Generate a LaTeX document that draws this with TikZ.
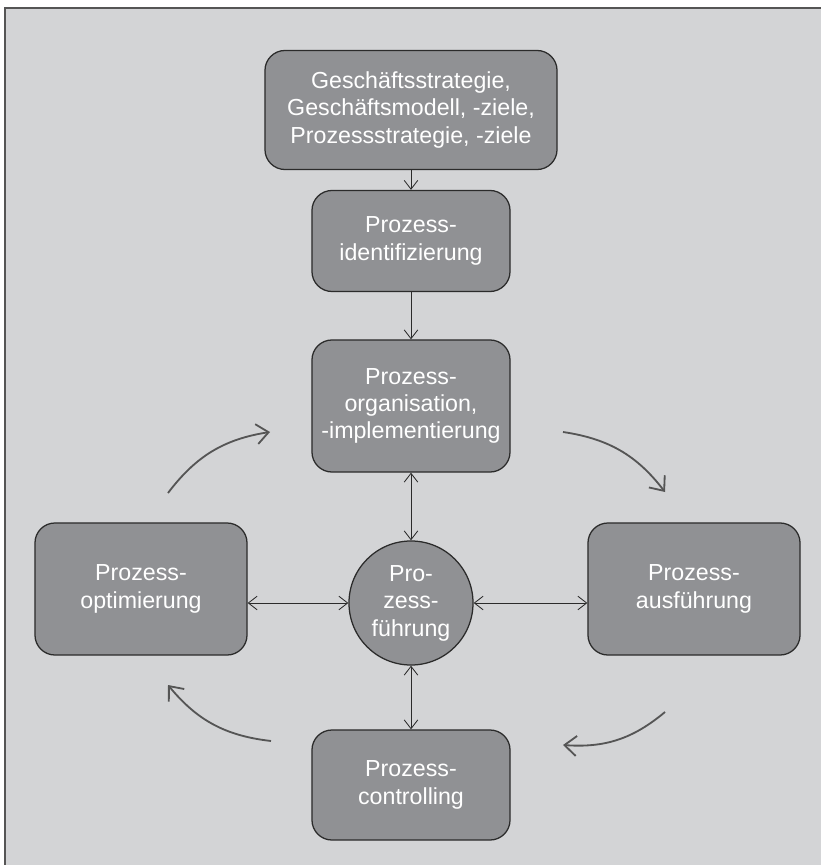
\documentclass[tikz,border=0pt]{standalone}
\usepackage{fontspec}
\setmainfont{Liberation Sans}
\usetikzlibrary{arrows.meta}
\definecolor{panelgray}{HTML}{D3D4D6}
\definecolor{boxgray}{HTML}{909194}
\definecolor{edgegray}{HTML}{2B2B2B}
\definecolor{cyclegray}{HTML}{555555}
\tikzset{
  stage/.style={draw=edgegray, line width=0.9pt, fill=boxgray, rounded corners=0.5cm,
    text=white, align=center, font=\fontsize{16.5}{19.5}\selectfont, inner sep=0pt},
  hub/.style={draw=edgegray, line width=0.9pt, fill=boxgray, circle, minimum size=3.1cm,
    text=white, align=center, font=\fontsize{16.5}{19.5}\selectfont, inner sep=0pt},
  link/.style={draw=edgegray, line width=0.6pt, -{Straight Barb[length=2.2mm,width=3.4mm]}},
  dlink/.style={draw=edgegray, line width=0.6pt, {Straight Barb[length=2.2mm,width=3.4mm]}-{Straight Barb[length=2.2mm,width=3.4mm]}},
  cycle/.style={draw=cyclegray, line width=1.3pt, -{Straight Barb[length=3mm,width=5mm]}, bend left=22}
}
\begin{document}
\begin{tikzpicture}[x=0.025cm, y=0.025cm]
                \useasboundingbox (0,0) rectangle (821,-865);
                \fill[panelgray] (5,-8) rectangle (821,-865);
                \draw[cyclegray, line width=1.2pt] (5,-865) -- (5,-8) -- (821,-8);

                \node[stage, minimum width=7.3cm, minimum height=2.975cm] (strat) at (411,-110) {Geschäftsstrategie,\\Geschäftsmodell, -ziele,\\Prozessstrategie, -ziele};
                \node[stage, minimum width=4.95cm, minimum height=2.525cm] (ident) at (411,-241) {Prozess-\\identifizierung};
                \node[stage, minimum width=4.95cm, minimum height=3.3cm] (org) at (411,-406) {Prozess-\\organisation,\\-implementierung};
                \node[hub] (fuehr) at (411,-603) {Pro-\\zess-\\führung};
                \node[stage, minimum width=5.3cm, minimum height=3.3cm] (opt) at (141,-589) {Prozess-\\optimierung};
                \node[stage, minimum width=5.3cm, minimum height=3.3cm] (ausf) at (694,-589) {Prozess-\\ausführung};
                \node[stage, minimum width=4.95cm, minimum height=2.75cm] (ctrl) at (411,-785) {Prozess-\\controlling};

                \coordinate (tl1) at (168,-493);
                \coordinate (tl2) at (270,-432);
                \coordinate (tr1) at (563,-432);
                \coordinate (tr2) at (665,-492);
                \coordinate (br1) at (665,-712);
                \coordinate (br2) at (563,-745);
                \coordinate (bl1) at (271,-741);
                \coordinate (bl2) at (168,-685);

                \draw[link] (strat) to (ident);
                \draw[link] (ident) to (org);
                \draw[dlink] (fuehr) to (org);
                \draw[dlink] (fuehr) to (ctrl);
                \draw[dlink] (fuehr.west) to (opt.east |- fuehr.west);
                \draw[dlink] (fuehr.east) to (ausf.west |- fuehr.east);

                \draw[cycle] (tl1) to (tl2);
                \draw[cycle] (tr1) to (tr2);
                \draw[cycle] (br1) to (br2);
                \draw[cycle] (bl1) to (bl2);
            \end{tikzpicture}
\end{document}
